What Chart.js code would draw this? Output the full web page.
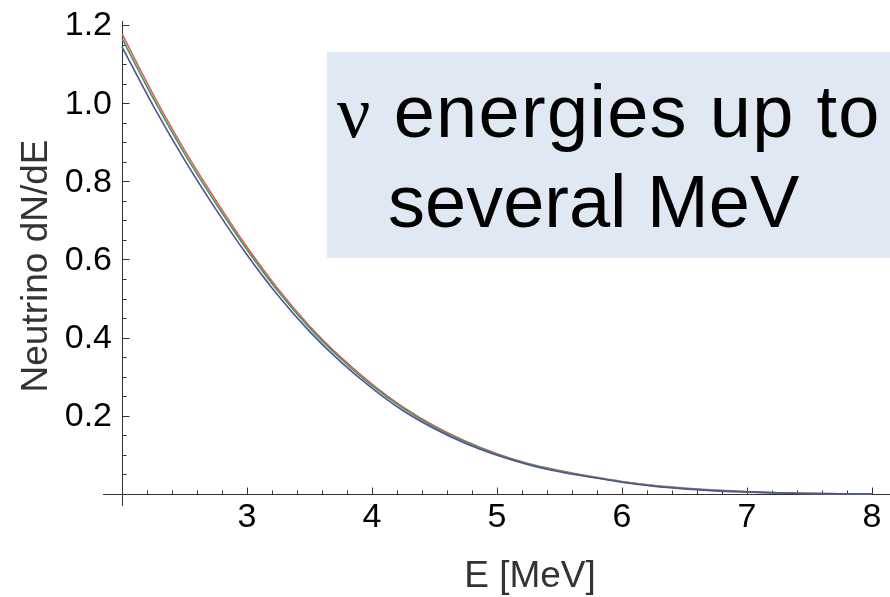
<!DOCTYPE html>
<html>
<head>
<meta charset="utf-8">
<script src="https://cdn.jsdelivr.net/npm/chart.js@4"></script>
<style>
  html, body { margin: 0; padding: 0; background: #fff; }
  #wrap { position: relative; width: 890px; height: 597px; overflow: hidden; }
  #c { position: absolute; left: 0; top: 0; }
  #note { position: absolute; left: 327px; top: 52px; width: 563px; height: 206px; background: #e0e9f3; }
  .line { position: absolute; font-family: "Liberation Sans", Arial, sans-serif; font-size: 74px; line-height: 74px; color: #000; white-space: nowrap; }
  .nu { font-family: "Liberation Serif", "Times New Roman", serif; }
</style>
</head>
<body>
<div id="wrap">
  <canvas id="c" width="890" height="597"></canvas>
  <div id="note">
    <div class="line" style="left:10px; top:23px; letter-spacing:1.3px"><span class="nu">ν</span> energies up to</div>
    <div class="line" style="left:61px; top:113px">several MeV</div>
  </div>
</div>
<script>
// === DATA ===
const energies = [2, 2.25, 2.5, 2.75, 3, 3.25, 3.5, 3.75, 4, 4.25, 4.5, 4.75, 5,
  5.25, 5.5, 5.75, 6, 6.25, 6.5, 6.75, 7, 7.25, 7.5, 7.75, 8];
const redSeries = [1.177, 1.022, 0.880, 0.752, 0.632, 0.524, 0.430, 0.350, 0.281, 0.222, 0.174, 0.135, 0.103,
  0.078, 0.060, 0.045, 0.032, 0.022, 0.015, 0.010, 0.006, 0.003, 0.0015, 0.0005, 0];
const greenSeries = [1.166, 1.012, 0.871, 0.744, 0.625, 0.518, 0.425, 0.346, 0.277, 0.219, 0.171, 0.133, 0.101,
  0.077, 0.059, 0.044, 0.031, 0.021, 0.014, 0.009, 0.0055, 0.003, 0.0014, 0.0005, 0];
const blueSeries = [1.144, 0.993, 0.855, 0.729, 0.612, 0.507, 0.416, 0.338, 0.271, 0.213, 0.167, 0.129, 0.099,
  0.075, 0.057, 0.043, 0.030, 0.020, 0.013, 0.008, 0.005, 0.0025, 0.0012, 0.0004, 0];

const xTicks = [3, 4, 5, 6, 7, 8];
const xTickLabels = ['3', '4', '5', '6', '7', '8'];
const yTicks = [0.2, 0.4, 0.6, 0.8, 1.0, 1.2];
const yTickLabels = ['0.2', '0.4', '0.6', '0.8', '1.0', '1.2'];
const xTitle = 'E [MeV]';
const yTitle = 'Neutrino dN/dE';

// === AXES (mathematica style, drawn from the chart scales) ===
const mathAxes = {
  id: 'mathAxes',
  beforeDatasetsDraw(chart) {
    const { ctx, chartArea: area, scales: { x, y } } = chart;
    const ax = Math.round(x.getPixelForValue(2)) + 0.5;
    const ay = Math.round(y.getPixelForValue(0)) + 0.5;
    ctx.save();
    ctx.strokeStyle = '#333';
    ctx.lineWidth = 1;
    ctx.beginPath();
    ctx.moveTo(area.left, ay); ctx.lineTo(area.right, ay);
    ctx.moveTo(ax, area.top); ctx.lineTo(ax, area.bottom);

    // x ticks, minor every 0.2
    for (let i = 11; i <= 40; i++) {
      const v = i / 5;
      const px = Math.round(x.getPixelForValue(v)) + 0.5;
      const len = i % 5 === 0 ? 7 : 4;
      ctx.moveTo(px, ay); ctx.lineTo(px, ay - len);
    }
    // y ticks, minor every 0.05
    for (let i = 1; i <= 24; i++) {
      const v = i / 20;
      const py = Math.round(y.getPixelForValue(v)) + 0.5;
      const len = i % 4 === 0 ? 7 : 4;
      ctx.moveTo(ax, py); ctx.lineTo(ax + len, py);
    }
    ctx.stroke();

    // tick labels
    ctx.fillStyle = '#000';
    ctx.font = '34px "Liberation Sans", Arial, sans-serif';
    ctx.textAlign = 'center';
    ctx.textBaseline = 'alphabetic';
    xTicks.forEach((v, i) => ctx.fillText(xTickLabels[i], x.getPixelForValue(v), 527));
    ctx.textAlign = 'right';
    ctx.textBaseline = 'middle';
    yTicks.forEach((v, i) => ctx.fillText(yTickLabels[i], 112, y.getPixelForValue(v) + 1));

    // axis titles
    ctx.fillStyle = '#333';
    ctx.font = '37px "Liberation Sans", Arial, sans-serif';
    ctx.textAlign = 'center';
    ctx.textBaseline = 'alphabetic';
    ctx.fillText(xTitle, 530, 587);
    ctx.translate(47, 266);
    ctx.rotate(-Math.PI / 2);
    ctx.fillText(yTitle, 0, 0);
    ctx.restore();
  }
};

// === CHART ===
function toPoints(values) {
  return values.map((v, i) => ({ x: energies[i], y: v }));
}

function lineSet(label, values, color, order) {
  return {
    label,
    data: toPoints(values),
    borderColor: color,
    borderWidth: 1.6,
    pointRadius: 0,
    cubicInterpolationMode: 'monotone',
    fill: false,
    order
  };
}

new Chart(document.getElementById('c').getContext('2d'), {
  type: 'line',
  data: {
    datasets: [
      lineSet('red', redSeries, '#e35b5b', 2),
      lineSet('green', greenSeries, '#3d9b5a', 1),
      lineSet('blue', blueSeries, '#50509e', 0)
    ]
  },
  options: {
    responsive: false,
    devicePixelRatio: 1,
    animation: false,
    layout: { padding: { left: 103, right: 0, top: 21, bottom: 91 } },
    plugins: { legend: { display: false }, tooltip: { enabled: false } },
    scales: {
      x: { type: 'linear', display: false, min: 1.848, max: 8.144 },
      y: { type: 'linear', display: false, min: -0.0307, max: 1.2102 }
    }
  },
  plugins: [mathAxes]
});
</script>
</body>
</html>
